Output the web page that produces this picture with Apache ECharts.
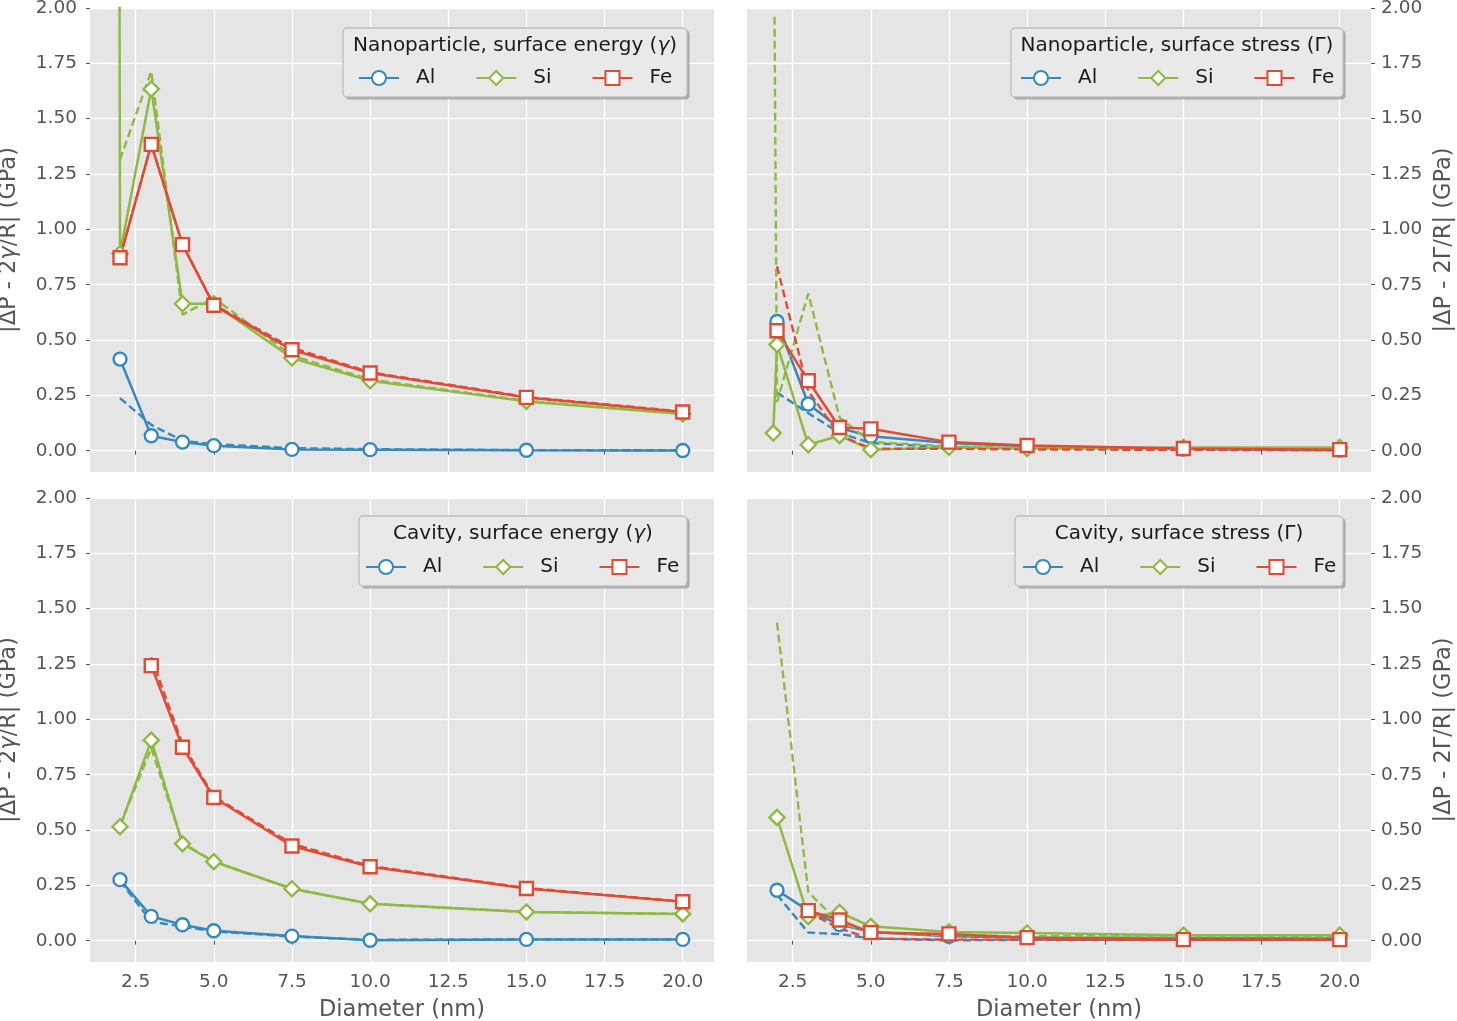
<!DOCTYPE html>
<html>
<head>
<meta charset="utf-8">
<script src="https://cdn.jsdelivr.net/npm/echarts@6/dist/echarts.min.js"></script>
<style>
html,body{margin:0;padding:0;background:#fff;}
#chart{width:1457px;height:1021px;}
</style>
</head>
<body>
<div id="chart"></div>
<script>
// ---------------- data ----------------
const diameters = [2, 3, 4, 5, 7.5, 10, 15, 20];
const xTicks = [2.5, 5, 7.5, 10, 12.5, 15, 17.5, 20];
const yTicks = [0, 0.25, 0.5, 0.75, 1.0, 1.25, 1.5, 1.75, 2.0];

// Nanoparticle, surface energy (gamma)
const npEnergyAl      = [0.414, 0.068, 0.039, 0.023, 0.006, 0.005, 0.002, 0.001];
const npEnergyAlModel = [0.238, 0.117, 0.045, 0.030, 0.012, 0.007, 0.003, 0.002];
const npEnergySiLead  = [1.96, 4.0];
const npEnergySi      = [0.890, 1.634, 0.664, 0.664, 0.419, 0.316, 0.223, 0.166];
const npEnergySiModel = [1.315, 1.714, 0.615, 0.690, 0.430, 0.322, 0.226, 0.168];
const npEnergyFe      = [0.872, 1.384, 0.931, 0.657, 0.456, 0.351, 0.241, 0.175];
const npEnergyFeModel = [0.872, 1.384, 0.931, 0.660, 0.465, 0.355, 0.243, 0.177];

// Nanoparticle, surface stress (Gamma)
const npStressAl      = [0.584, 0.211, 0.103, 0.065, 0.035, 0.020, 0.008, 0.003];
const npStressAlModel = [0.263, 0.170, 0.080, 0.035, 0.015, 0.010, 0.005, 0.003];
const npStressSiLead  = [1.88, 0.080];
const npStressSi      = [0.480, 0.027, 0.068, 0.005, 0.015, 0.010, 0.015, 0.015];
const npStressSiModelLead = [1.92, 1.960];
const npStressSiModel = [0.220, 0.710, 0.150, 0.040, 0.020, 0.012, 0.010, 0.010];
const npStressFe      = [0.542, 0.316, 0.105, 0.099, 0.039, 0.024, 0.010, 0.005];
const npStressFeModel = [0.833, 0.270, 0.070, 0.010, 0.008, 0.006, 0.004, 0.003];

// Cavity, surface energy (gamma)
const cvEnergyAl      = [0.276, 0.110, 0.072, 0.045, 0.021, 0.002, 0.006, 0.006];
const cvEnergyAlModel = [0.270, 0.086, 0.064, 0.042, 0.019, 0.004, 0.006, 0.006];
const cvEnergySi      = [0.515, 0.906, 0.438, 0.357, 0.235, 0.167, 0.130, 0.121];
const cvEnergySiModel = [0.520, 0.870, 0.442, 0.358, 0.235, 0.167, 0.130, 0.121];
const cvEnergyFe      = [null, 1.243, 0.874, 0.647, 0.428, 0.334, 0.236, 0.176];
const cvEnergyFeModel = [null, 1.280, 0.888, 0.652, 0.438, 0.338, 0.238, 0.177];

// Cavity, surface stress (Gamma)
const cvStressAl      = [0.228, 0.136, 0.073, 0.040, 0.020, 0.015, 0.012, 0.010];
const cvStressAlModel = [0.208, 0.037, 0.030, 0.010, 0.002, 0.004, 0.004, 0.004];
const cvStressSi      = [0.557, 0.109, 0.128, 0.065, 0.040, 0.035, 0.025, 0.025];
const cvStressSiModel = [1.437, 0.220, 0.080, 0.040, 0.025, 0.020, 0.020, 0.020];
const cvStressFe      = [null, 0.136, 0.094, 0.037, 0.031, 0.014, 0.005, 0.005];
const cvStressFeModel = [null, 0.130, 0.055, 0.010, 0.005, 0.005, 0.004, 0.004];

// ---------------- styles ----------------
const C = { Al: '#348ABD', Si: '#8EBA42', Fe: '#E24A33' };
const SYM = { Al: 'circle', Si: 'diamond', Fe: 'rect' };
const SYMSIZE = { Al: 13, Si: 15, Fe: 13 };
const FONT = 'DejaVu Sans';

function pts(vals, lead) {
  const out = [];
  if (lead) out.push(lead);
  vals.forEach((v, i) => { if (v !== null) out.push([diameters[i], v]); });
  return out;
}

const panels = [
  { title: [{t:'Nanoparticle, surface energy ('},{t:'γ',i:true},{t:')'}],
    Al: [npEnergyAl, npEnergyAlModel], Si: [npEnergySi, npEnergySiModel, npEnergySiLead, null],
    Fe: [npEnergyFe, npEnergyFeModel] },
  { title: [{t:'Nanoparticle, surface stress (Γ)'}],
    Al: [npStressAl, npStressAlModel], Si: [npStressSi, npStressSiModel, npStressSiLead, npStressSiModelLead],
    Fe: [npStressFe, npStressFeModel] },
  { title: [{t:'Cavity, surface energy ('},{t:'γ',i:true},{t:')'}],
    Al: [cvEnergyAl, cvEnergyAlModel], Si: [cvEnergySi, cvEnergySiModel], Fe: [cvEnergyFe, cvEnergyFeModel] },
  { title: [{t:'Cavity, surface stress (Γ)'}],
    Al: [cvStressAl, cvStressAlModel], Si: [cvStressSi, cvStressSiModel], Fe: [cvStressFe, cvStressFeModel] }
];

const grids = [
  { left: 90,  top: 8,   width: 624, height: 464 },
  { left: 747, top: 8,   width: 624, height: 464 },
  { left: 90,  top: 498, width: 624, height: 464 },
  { left: 747, top: 498, width: 624, height: 464 }
];
const legendBoxes = [
  { x: 343,  y: 28,  w: 344, h: 69, tx: 515,  ty: 45.5, lx: 358,  ly: 68 },
  { x: 1011, y: 28,  w: 332, h: 69, tx: 1177, ty: 45.5, lx: 1020, ly: 68 },
  { x: 359,  y: 516, w: 328, h: 70, tx: 523,  ty: 534,  lx: 365,  ly: 557 },
  { x: 1015, y: 516, w: 328, h: 70, tx: 1179, ty: 534,  lx: 1022, ly: 557 }
];

const series = [];
panels.forEach((p, k) => {
  ['Al', 'Si', 'Fe'].forEach(m => {
    const [solid, model, lead, modelLead] = p[m];
    series.push({
      name: m, type: 'line', xAxisIndex: k, yAxisIndex: k,
      data: pts(solid, lead), symbol: SYM[m], symbolSize: SYMSIZE[m],
      showSymbol: true, clip: true, animation: false,
      itemStyle: { color: '#ffffff', borderColor: C[m], borderWidth: 2.4 },
      lineStyle: { color: C[m], width: 2.5 },
      emphasis: { disabled: true }, z: 3
    });
    series.push({
      name: m + ' model', type: 'line', xAxisIndex: k, yAxisIndex: k,
      data: pts(model, modelLead), symbol: 'none', clip: true, animation: false,
      lineStyle: { color: C[m], width: 2.4, type: [8, 4] },
      itemStyle: { color: C[m] },
      emphasis: { disabled: true }, z: 3
    });
  });
});

const xAxes = grids.map((g, k) => ({
  gridIndex: k, type: 'value', min: 1.04, max: 21.0,
  axisLine: { show: false },
  axisTick: { show: true, length: 4, lineStyle: { color: '#555555', width: 1 }, customValues: xTicks },
  axisLabel: { show: k >= 2, customValues: xTicks, margin: 11, color: '#555555', fontSize: 18.5, fontFamily: FONT,
               formatter: v => v.toFixed(1) },
  splitLine: { show: true, lineStyle: { color: '#ffffff', width: 1.3 } },
  name: k >= 2 ? 'Diameter (nm)' : '', nameLocation: 'middle', nameGap: 37,
  nameTextStyle: { color: '#555555', fontSize: 22.5, fontFamily: FONT }
}));

const leftName = '{n|\u007CΔP - 2}{i|γ}{n|/R\u007C (GPa)}';
const rightName = '{n|\u007CΔP - 2Γ/R\u007C (GPa)}';
const nameRich = {
  n: { fontSize: 22.5, fontFamily: FONT, color: '#555555' },
  i: { fontSize: 22.5, fontFamily: FONT, color: '#555555', fontStyle: 'italic' }
};
const yAxes = grids.map((g, k) => {
  const right = (k % 2) === 1;
  return {
    gridIndex: k, type: 'value', min: -0.096, max: 2.0, position: right ? 'right' : 'left',
    axisLine: { show: false },
    axisTick: { show: true, length: 4, lineStyle: { color: '#555555', width: 1 }, customValues: yTicks },
    axisLabel: { customValues: yTicks, margin: right ? 10 : 13, color: '#555555', fontSize: 18.5, fontFamily: FONT,
                 formatter: v => v.toFixed(2) },
    splitLine: { show: true, lineStyle: { color: '#ffffff', width: 1.3 } },
    name: right ? rightName : leftName, nameLocation: 'middle', nameRotate: 90,
    nameGap: right ? 62 : 69,
    nameTextStyle: { rich: nameRich, fontSize: 22.5, fontFamily: FONT, color: '#555555' }
  };
});

const legends = legendBoxes.map((b, k) => ({
  data: ['Al', 'Si', 'Fe'], left: b.lx, top: b.ly, orient: 'horizontal',
  itemWidth: 40, itemHeight: 17.5, itemGap: 40, selectedMode: false, padding: 0, z: 70,
  textStyle: { fontSize: 20, fontFamily: FONT, color: '#1a1a1a', padding: [0, 0, 0, 12] }
}));

const graphics = [];
legendBoxes.forEach((b, k) => {
  graphics.push({ type: 'rect', z: 50, silent: true,
    shape: { x: b.x + 2.5, y: b.y + 2.5, width: b.w, height: b.h, r: 4 },
    style: { fill: 'rgba(120,120,120,0.55)' } });
  graphics.push({ type: 'rect', z: 51, silent: true,
    shape: { x: b.x, y: b.y, width: b.w, height: b.h, r: 4 },
    style: { fill: '#E9E9E9', stroke: '#BDBDBD', lineWidth: 1.3 } });
  const txt = panels[k].title.map(s => (s.i ? '{i|' : '{n|') + s.t + '}').join('');
  graphics.push({ type: 'text', z: 60, silent: true, x: b.tx, y: b.ty,
    style: { text: txt, align: 'center', verticalAlign: 'middle',
      fontSize: 20, fontFamily: FONT, fill: '#1a1a1a',
      rich: { n: { fontSize: 20, fontFamily: FONT, fill: '#1a1a1a', color: '#1a1a1a' },
              i: { fontSize: 20, fontFamily: FONT, fill: '#1a1a1a', color: '#1a1a1a', fontStyle: 'italic' } } } });
});

const chart = echarts.init(document.getElementById('chart'), null, { renderer: 'canvas' });
chart.setOption({
  backgroundColor: '#ffffff',
  animation: false,
  grid: grids.map(g => Object.assign({ show: true, backgroundColor: '#E5E5E5', borderWidth: 0,
                                       containLabel: false, outerBoundsMode: 'none' }, g)),
  xAxis: xAxes,
  yAxis: yAxes,
  legend: legends,
  series: series,
  graphic: { elements: graphics }
});
</script>
</body>
</html>
